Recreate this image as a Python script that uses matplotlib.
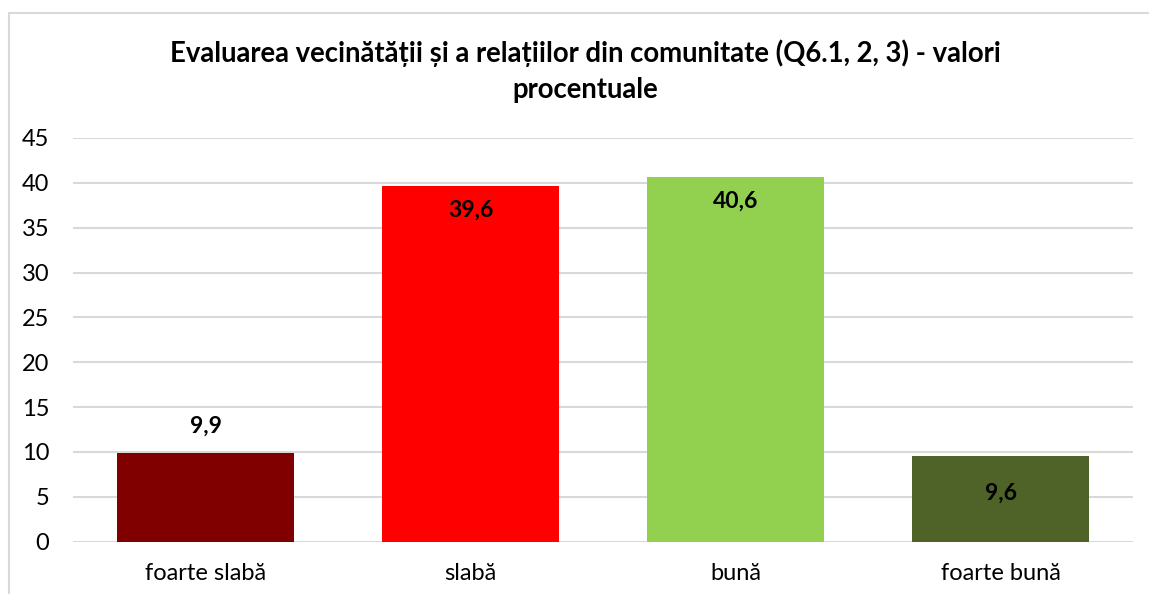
import matplotlib.pyplot as plt
from matplotlib.patches import Rectangle

plt.rcParams['font.family'] = ['Lato', 'DejaVu Sans']

categorii = ["foarte slabă", "slabă", "bună", "foarte bună"]
valori = [9.9, 39.6, 40.6, 9.6]
culori = ["#800000", "#FF0000", "#92D050", "#4F6228"]
etichete = ["9,9", "39,6", "40,6", "9,6"]
pozitie_eticheta = ["above", "inside_top", "inside_top", "center"]

fig = plt.figure(figsize=(11.49, 5.94), dpi=100)
ax = fig.add_axes([73 / 1149, 1 - 541.7 / 594, (1133 - 73) / 1149, (541.7 - 138) / 594])

# chenar gri in jurul graficului
fig.patches.append(Rectangle((9 / 1149, -0.1), 1.2, 1 - 13 / 594 + 0.1,
                             transform=fig.transFigure, fill=False,
                             edgecolor="#D9D9D9", linewidth=1.5))

x = range(len(categorii))
bars = ax.bar(x, valori, width=0.668, color=culori, zorder=3)

for b, v, et, poz in zip(bars, valori, etichete, pozitie_eticheta):
    cx = b.get_x() + b.get_width() / 2
    if poz == "above":
        ax.annotate(et, (cx, v), xytext=(0, 19), textcoords="offset points",
                    ha="center", va="center", fontsize=16.5, fontweight="bold")
    elif poz == "inside_top":
        ax.annotate(et, (cx, v), xytext=(0, -17), textcoords="offset points",
                    ha="center", va="center", fontsize=16.5, fontweight="bold")
    else:
        ax.text(cx, v / 2 + 0.6, et, ha="center", va="center",
                fontsize=16.5, fontweight="bold")

ax.set_ylim(0, 45)
ax.set_xlim(-0.5, 3.5)
ax.set_yticks(range(0, 50, 5))
ax.set_xticks(list(x))
ax.set_xticklabels(categorii)
ax.tick_params(axis="both", length=0, labelsize=17, colors="black")
ax.tick_params(axis="x", pad=15)
ax.tick_params(axis="y", pad=17)
ax.grid(axis="y", color="#D9D9D9", linewidth=1.5, zorder=0)
for s in ax.spines.values():
    s.set_visible(False)

fig.text(585 / 1149, 1 - 71 / 594,
         "Evaluarea vecinătății și a relațiilor din comunitate (Q6.1, 2, 3) - valori\nprocentuale",
         ha="center", va="center", fontsize=19.8, fontweight="bold", linespacing=1.5)

fig.savefig("out.png", dpi=100)
